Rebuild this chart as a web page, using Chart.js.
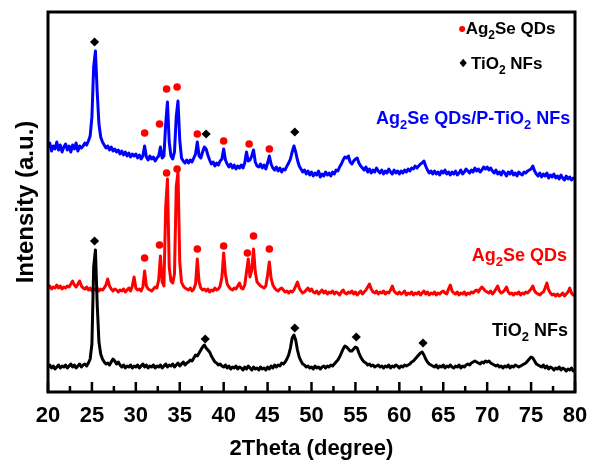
<!DOCTYPE html>
<html>
<head>
<meta charset="utf-8">
<script src="https://cdn.jsdelivr.net/npm/chart.js@4/dist/chart.umd.min.js"></script>
<style>
  html, body { margin: 0; padding: 0; background: #fff; }
  #wrap { width: 599px; height: 460px; }
</style>
</head>
<body>
<div id="wrap"><canvas id="xrd" width="599" height="460"></canvas></div>
<script>
// XRD scan: 2θ from 20° to 80° in 0.2° steps
const scanStart = 20;
const scanStep = 0.2;

// Intensities (a.u., stacked offsets) — one row per 2° of 2θ
const tio2NFs = [
  25,27,24,26,23,25,27,24,26,25,
  27,24,26,28,25,27,24,26,28,25,
  27,28,26,29,33,48,125,142,88,50,
  38,33,30,28,29,27,30,33,31,28,
  30,27,25,27,24,26,25,27,24,26,
  25,27,24,26,28,25,27,24,26,25,
  27,24,26,25,27,24,26,28,25,27,
  26,28,25,27,29,26,28,30,27,29,
  30,32,31,34,37,36,39,42,45,47,
  44,42,40,36,33,30,29,27,28,26,
  25,27,24,26,23,25,24,26,23,25,
  24,22,25,23,26,24,22,25,23,24,
  22,25,23,24,22,25,23,26,24,27,
  25,27,26,29,28,30,33,37,44,54,
  57,52,42,35,31,28,27,25,26,24,
  25,23,26,24,25,23,25,26,24,26,
  25,27,26,28,30,32,35,39,43,46,
  45,43,41,41,43,45,44,39,35,32,
  30,29,27,28,26,27,25,26,27,25,
  26,24,26,25,27,24,26,25,27,26,
  24,26,25,27,26,27,28,30,31,33,
  35,37,39,40,37,33,30,28,27,26,
  25,27,24,26,25,27,24,26,25,27,
  25,24,26,25,27,24,26,25,27,28,
  27,29,30,31,30,29,28,30,29,31,
  30,31,29,28,27,26,27,25,26,24,
  26,25,27,24,26,25,27,26,25,26,
  27,28,29,31,33,35,34,31,28,27,
  26,25,27,24,26,23,25,24,22,24,
  23,25,22,24,23,21,23,22,24,21,
  21
];

const ag2seQDs = [
  104,106,103,105,104,107,104,106,103,105,
  104,106,105,108,111,107,105,108,111,106,
  104,103,105,102,104,101,103,102,104,101,
  103,102,104,107,113,106,103,101,103,102,
  100,102,101,103,100,102,104,101,106,115,
  104,102,103,101,105,121,106,103,102,101,
  103,105,104,112,136,110,106,185,213,125,
  111,109,118,205,220,130,110,106,104,103,
  102,104,101,103,108,133,110,104,102,103,
  101,103,100,102,101,104,102,103,106,115,
  139,118,108,105,103,102,104,103,106,109,
  104,103,107,120,133,115,122,143,120,110,
  108,106,105,104,106,117,130,114,107,104,
  102,101,103,104,102,100,101,99,101,100,
  102,106,110,104,101,99,100,102,104,101,
  103,100,99,101,98,100,102,99,101,98,
  100,99,101,98,100,99,97,100,102,99,
  98,100,99,101,98,100,97,99,101,98,
  100,102,105,108,103,100,99,101,98,100,
  99,101,98,100,99,102,106,101,99,98,
  100,98,99,101,97,99,98,100,97,99,
  98,100,97,99,101,98,100,97,99,98,
  100,97,99,98,100,101,99,98,103,107,
  101,99,98,100,97,99,98,100,97,99,
  98,100,99,101,102,100,103,105,103,101,
  100,99,101,98,100,103,106,101,99,100,
  102,105,100,98,99,97,99,98,100,97,
  99,98,100,99,101,103,106,101,99,98,
  97,99,100,104,109,102,99,97,98,96,
  98,96,97,99,96,98,100,104,99,97,
  96
];

const ag2seOnPTiO2 = [
  244,249,241,246,243,250,242,247,240,245,
  248,242,246,240,247,243,249,241,246,244,
  246,249,247,251,256,275,325,341,300,268,
  255,250,247,244,246,242,245,241,243,240,
  242,238,241,237,240,236,239,235,238,236,
  238,234,237,233,236,246,235,232,236,233,
  235,231,234,236,245,234,236,268,290,250,
  236,233,240,275,291,252,234,231,229,232,
  229,232,230,234,238,250,236,234,240,245,
  243,237,232,228,230,226,229,227,231,233,
  243,232,228,225,228,224,227,223,226,224,
  227,224,229,240,231,232,236,242,230,226,
  225,228,224,227,223,229,236,228,224,222,
  225,221,224,220,223,222,226,229,233,240,
  246,240,232,226,223,220,222,218,221,217,
  220,216,219,217,221,215,218,216,220,217,
  219,216,220,218,222,221,225,228,232,235,
  234,236,230,228,231,233,234,229,226,224,
  222,225,220,223,219,222,220,224,221,219,
  222,218,221,219,223,220,218,222,219,221,
  218,221,219,222,220,223,221,224,223,226,
  224,226,228,229,231,226,222,219,221,218,
  221,218,220,217,221,219,222,218,220,217,
  220,218,221,217,219,222,218,220,223,221,
  219,222,220,224,221,223,220,222,225,223,
  225,222,224,221,219,222,218,220,217,221,
  219,216,220,218,221,217,219,216,220,218,
  217,220,219,221,222,223,226,221,218,216,
  219,215,218,216,219,214,217,215,218,214,
  216,213,217,214,212,216,213,215,212,214,
  213
];

// Phase markers placed above the indexed reflections (2θ, stacked intensity)
const agMarkOnQDsX = [31.0, 32.7, 33.5, 34.7, 37.0, 40.0, 42.7, 43.4, 45.2];
const agMarkOnQDsY = [134, 147, 219, 223, 143, 146, 139, 156, 143];
const agMarkOnCompX = [31.0, 32.7, 33.5, 34.7, 37.0, 40.0, 42.9, 45.2];
const agMarkOnCompY = [259, 268, 303, 305, 258, 251, 248, 243];
const tiMarkOnNFsX = [25.3, 37.9, 48.1, 55.1, 62.7];
const tiMarkOnNFsY = [151, 53, 64, 55, 49];
const tiMarkOnCompX = [25.3, 38.0, 48.1];
const tiMarkOnCompY = [350, 258, 260];

const xTickStep = 2.5;
const xLabelStep = 5;

const FONT = '"Liberation Sans", Arial, Helvetica, sans-serif';

const toXY = vals => vals.map((v, i) => ({ x: +(scanStart + i * scanStep).toFixed(2), y: v }));
const pairs = (xs, ys) => xs.map((x, i) => ({ x, y: ys[i] }));

function lineSet(label, vals, color, order) {
  return {
    label, data: toXY(vals), borderColor: color, backgroundColor: color,
    borderWidth: 3, pointRadius: 0, tension: 0, fill: false, order,
    borderJoinStyle: 'round'
  };
}
function markSet(label, xs, ys, style, color, radius) {
  return {
    label, data: pairs(xs, ys), showLine: false, pointStyle: style,
    pointRadius: radius, pointBackgroundColor: color, pointBorderColor: color,
    pointBorderWidth: 0, order: 0
  };
}

// Draws text with subscripted parts
function drawRich(ctx, parts, x, y, align, color, size) {
  const main = `bold ${size}px ${FONT}`;
  const sub = `bold ${Math.round(size * 0.72)}px ${FONT}`;
  let w = 0;
  parts.forEach(p => { ctx.font = p.sub ? sub : main; w += ctx.measureText(p.t).width; });
  let cx = align === 'right' ? x - w : x;
  ctx.fillStyle = color;
  ctx.textAlign = 'left';
  ctx.textBaseline = 'alphabetic';
  parts.forEach(p => {
    ctx.font = p.sub ? sub : main;
    ctx.fillText(p.t, cx, p.sub ? y + size * 0.3 : y);
    cx += ctx.measureText(p.t).width;
  });
}

const frameAndTicks = {
  id: 'frameAndTicks',
  afterDatasetsDraw(chart) {
    const { ctx, chartArea: a, scales: { x } } = chart;
    ctx.save();
    ctx.strokeStyle = '#000';
    ctx.lineWidth = 2.5;
    ctx.beginPath();
    x.ticks.forEach(t => {
      const px = x.getPixelForValue(t.value);
      const len = Math.abs(t.value % xLabelStep) < 1e-6 ? 10 : 6;
      ctx.moveTo(px, a.bottom);
      ctx.lineTo(px, a.bottom - len);
    });
    ctx.stroke();
    ctx.lineWidth = 3;
    ctx.strokeRect(a.left, a.top, a.right - a.left, a.bottom - a.top);
    ctx.restore();
  }
};

const annotations = {
  id: 'annotations',
  afterDraw(chart) {
    const { ctx, scales: { x, y } } = chart;
    const X = v => x.getPixelForValue(v), Y = v => y.getPixelForValue(v);
    ctx.save();
    // key
    ctx.fillStyle = '#ff0000';
    ctx.beginPath();
    ctx.arc(X(67.15), Y(363), 3, 0, Math.PI * 2);
    ctx.fill();
    ctx.fillStyle = '#000';
    const dx = X(67.27), dy = Y(329), r = 4.2;
    ctx.beginPath();
    ctx.moveTo(dx, dy - r); ctx.lineTo(dx + r * 0.85, dy); ctx.lineTo(dx, dy + r); ctx.lineTo(dx - r * 0.85, dy);
    ctx.closePath();
    ctx.fill();
    drawRich(ctx, [{ t: 'Ag' }, { t: '2', sub: 1 }, { t: 'Se QDs' }], X(67.55), Y(358), 'left', '#000', 17);
    drawRich(ctx, [{ t: 'TiO' }, { t: '2', sub: 1 }, { t: ' NFs' }], X(68.15), Y(323), 'left', '#000', 17);
    // curve names
    drawRich(ctx, [{ t: 'Ag' }, { t: '2', sub: 1 }, { t: 'Se QDs/P-TiO' }, { t: '2', sub: 1 }, { t: ' NFs' }],
      X(79.45), Y(268), 'right', '#0000ff', 18);
    drawRich(ctx, [{ t: 'Ag' }, { t: '2', sub: 1 }, { t: 'Se QDs' }], X(79.1), Y(131), 'right', '#ff0000', 18);
    drawRich(ctx, [{ t: 'TiO' }, { t: '2', sub: 1 }, { t: ' NFs' }], X(79.2), Y(56), 'right', '#000', 18);
    ctx.restore();
  }
};

new Chart(document.getElementById('xrd'), {
  type: 'line',
  data: {
    datasets: [
      markSet('Ag2Se (QDs)', agMarkOnQDsX, agMarkOnQDsY, 'circle', '#ff0000', 3.8),
      markSet('Ag2Se (composite)', agMarkOnCompX, agMarkOnCompY, 'circle', '#ff0000', 3.8),
      markSet('TiO2 (NFs)', tiMarkOnNFsX, tiMarkOnNFsY, 'rectRot', '#000000', 4.6),
      markSet('TiO2 (composite)', tiMarkOnCompX, tiMarkOnCompY, 'rectRot', '#000000', 4.6),
      lineSet('TiO2 NFs', tio2NFs, '#000000', 1),
      lineSet('Ag2Se QDs', ag2seQDs, '#ff0000', 2),
      lineSet('Ag2Se QDs/P-TiO2 NFs', ag2seOnPTiO2, '#0000ff', 3)
    ]
  },
  options: {
    responsive: false,
    animation: false,
    devicePixelRatio: 1,
    events: [],
    layout: { padding: { top: 12, right: 24, left: 0, bottom: 0 } },
    plugins: { legend: { display: false }, tooltip: { enabled: false } },
    scales: {
      x: {
        type: 'linear', min: 20, max: 80,
        ticks: {
          stepSize: xTickStep, autoSkip: false, maxRotation: 0, padding: 11, color: '#000',
          font: { family: FONT, size: 22, weight: 'bold' },
          callback: v => (Math.abs(v % xLabelStep) < 1e-6 ? String(v) : '')
        },
        grid: { display: false, drawTicks: false },
        border: { display: false },
        title: {
          display: true, text: '2Theta (degree)', color: '#000',
          font: { family: FONT, size: 22, weight: 'bold', lineHeight: 1 },
          padding: { top: 0, bottom: 0 }
        },
        afterFit: s => { s.height = 68; }
      },
      y: {
        min: 0, max: 380,
        ticks: { display: false },
        grid: { display: false, drawTicks: false },
        border: { display: false },
        title: {
          display: true, text: 'Intensity (a.u.)', color: '#000',
          font: { family: FONT, size: 24, weight: 'bold', lineHeight: 1 },
          padding: { top: 14, bottom: 0 }
        },
        afterFit: s => { s.width = 48; }
      }
    }
  },
  plugins: [frameAndTicks, annotations]
});
</script>
</body>
</html>
